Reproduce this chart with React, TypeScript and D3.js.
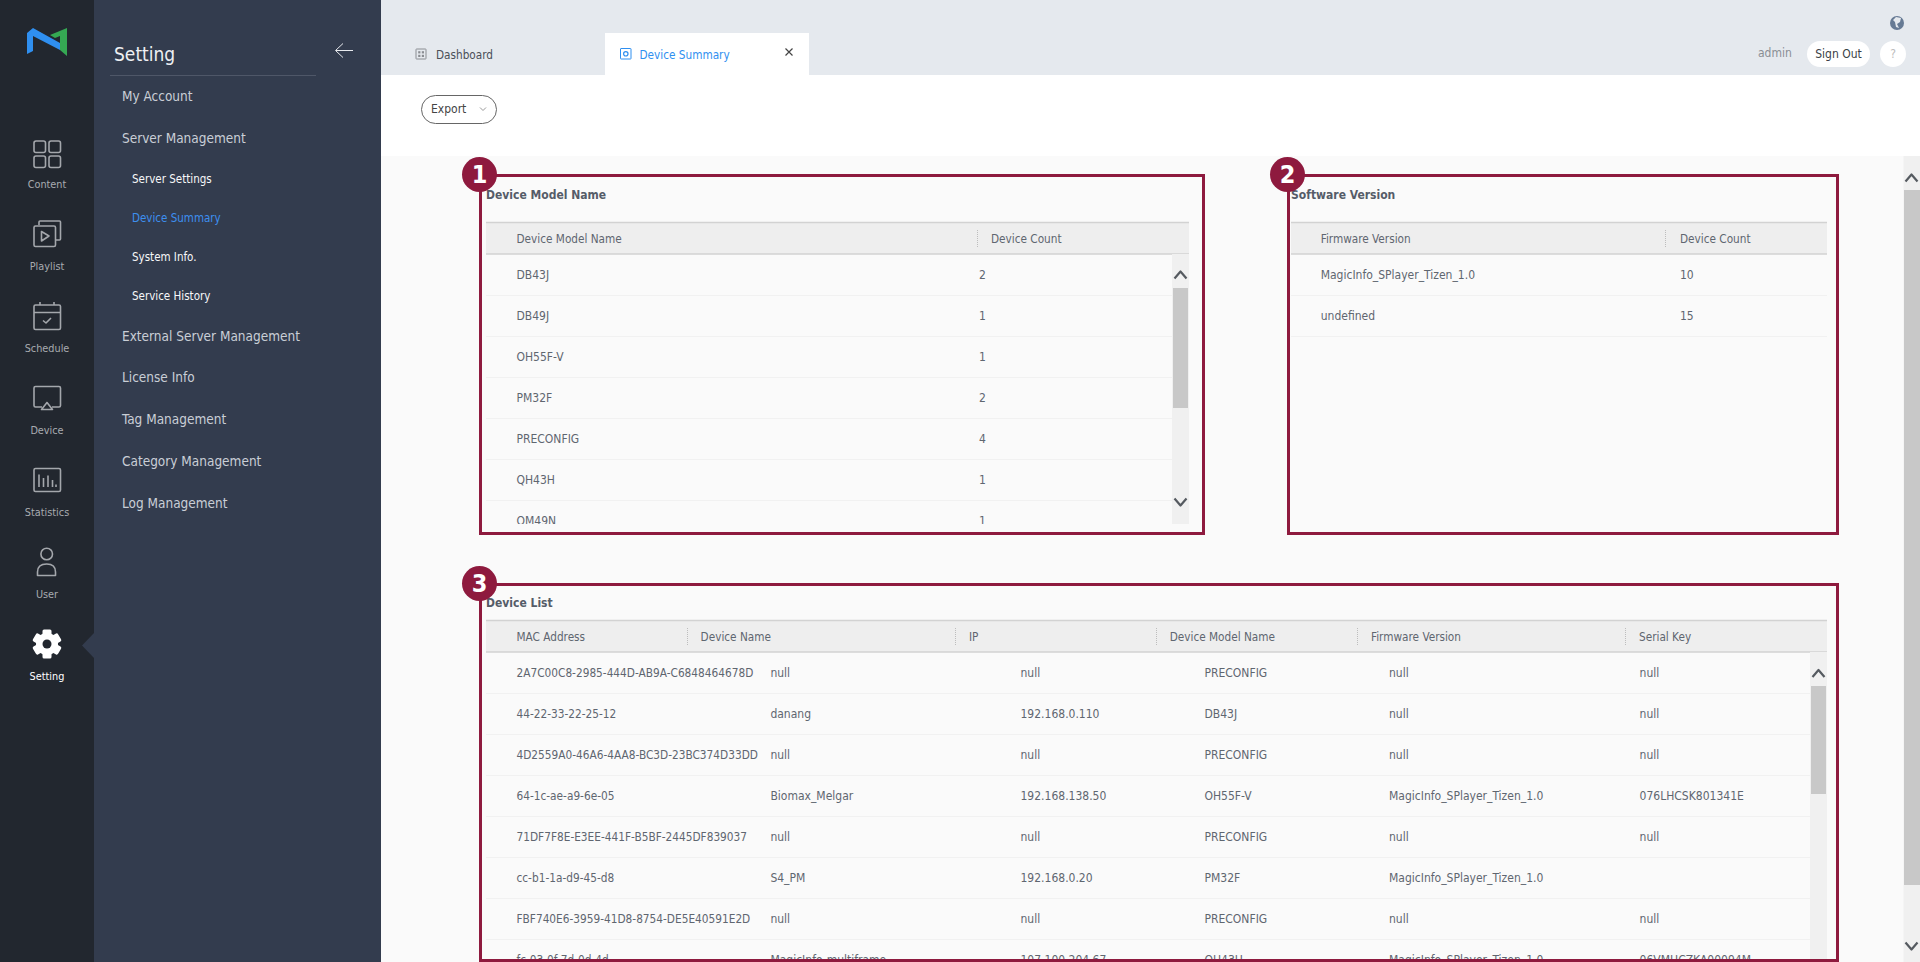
import { useEffect, useRef } from "react";
import * as d3 from "d3";

const railLabels = ["Content", "Playlist", "Schedule", "Device", "Statistics", "User", "Setting"];
const menuItems = [
  "My Account",
  "Server Management",
  "Server Settings",
  "Device Summary",
  "System Info.",
  "Service History",
  "External Server Management",
  "License Info",
  "Tag Management",
  "Category Management",
  "Log Management",
];
const subItems = ["Server Settings", "Device Summary", "System Info.", "Service History"];

const modelHeaders = ["Device Model Name", "Device Count"];
const modelNames = ["DB43J", "DB49J", "OH55F-V", "PM32F", "PRECONFIG", "QH43H", "OM49N"];
const modelCounts = [2, 1, 1, 2, 4, 1, 1];

const versionHeaders = ["Firmware Version", "Device Count"];
const versionNames = ["MagicInfo_SPlayer_Tizen_1.0", "undefined"];
const versionCounts = [10, 15];

const listHeaders = ["MAC Address", "Device Name", "IP", "Device Model Name", "Firmware Version", "Serial Key"];
const macs = [
  "2A7C00C8-2985-444D-AB9A-C6848464678D",
  "44-22-33-22-25-12",
  "4D2559A0-46A6-4AA8-BC3D-23BC374D33DD",
  "64-1c-ae-a9-6e-05",
  "71DF7F8E-E3EE-441F-B5BF-2445DF839037",
  "cc-b1-1a-d9-45-d8",
  "FBF740E6-3959-41D8-8754-DE5E40591E2D",
  "fc-03-0f-7d-0d-4d",
];
const deviceNames = ["null", "danang", "null", "Biomax_Melgar", "null", "S4_PM", "null", "MagicInfo-multiframe"];
const ips = ["null", "192.168.0.110", "null", "192.168.138.50", "null", "192.168.0.20", "null", "107.100.204.67"];
const listModels = ["PRECONFIG", "DB43J", "PRECONFIG", "OH55F-V", "PRECONFIG", "PM32F", "PRECONFIG", "QH43H"];
const firmware = [
  "null",
  "null",
  "null",
  "MagicInfo_SPlayer_Tizen_1.0",
  "null",
  "MagicInfo_SPlayer_Tizen_1.0",
  "null",
  "MagicInfo_SPlayer_Tizen_1.0",
];
const serials = ["null", "null", "null", "076LHCSK801341E", "null", "", "null", "06VMHCZKA00094M"];

const FONT = "'DejaVu Sans Condensed', 'DejaVu Sans', sans-serif";
const MAROON = "#8e1a3e";
const TEXT = "#5f6670";
const ICON = "#a4a7ac";

type G = d3.Selection<SVGGElement, unknown, null, undefined>;

function label(g: G, x: number, y: number, s: string, size: number, fill: string, weight = "normal", anchor = "start") {
  g.append("text")
    .attr("x", x)
    .attr("y", y)
    .attr("dy", "0.35em")
    .attr("font-family", FONT)
    .attr("font-stretch", "condensed")
    .attr("font-size", size)
    .attr("font-weight", weight)
    .attr("text-anchor", anchor)
    .attr("fill", fill)
    .text(s);
}

function icon(g: G, d: string, stroke = ICON, w = 1.6) {
  g.append("path")
    .attr("d", d)
    .attr("fill", "none")
    .attr("stroke", stroke)
    .attr("stroke-width", w)
    .attr("stroke-linejoin", "round");
}

function box(g: G, x: number, y: number, w: number, h: number, r: number, fill: string, stroke = "none", sw = 0) {
  return g
    .append("rect")
    .attr("x", x)
    .attr("y", y)
    .attr("width", w)
    .attr("height", h)
    .attr("rx", r)
    .attr("fill", fill)
    .attr("stroke", stroke)
    .attr("stroke-width", sw);
}

function chevron(g: G, cx: number, cy: number, up: boolean) {
  const s = up ? -1 : 1;
  icon(g, `M${cx - 6},${cy - s * 3.5}L${cx},${cy + s * 3.5}L${cx + 6},${cy - s * 3.5}`, "#555a60", 2.2);
}

function scrollbar(g: G, x: number, w: number, y0: number, y1: number, t0: number, t1: number, upY: number, downY: number | null) {
  box(g, x, y0, w, y1 - y0, 0, "#f0f0f0");
  box(g, x + 1, t0, w - 2, t1 - t0, 0, "#c8c8c8");
  chevron(g, x + w / 2, upY, true);
  if (downY !== null) chevron(g, x + w / 2, downY, false);
}

type Table = {
  id: string;
  x0: number;
  x1: number;
  headerTop: number;
  headers: string[];
  headerX: number[];
  sepX: number[];
  columns: (string | number)[][];
  cellX: number[];
  lineEnd: number;
  clipBottom: number;
  firstColSize?: number;
};

function drawTable(root: G, defs: d3.Selection<SVGDefsElement, unknown, null, undefined>, t: Table) {
  const top = t.headerTop;
  const g = root.append("g");
  box(g, t.x0, top, t.x1 - t.x0, 32, 0, "#eeeeee");
  g.append("line").attr("x1", t.x0).attr("x2", t.x1).attr("y1", top + 0.5).attr("y2", top + 0.5).attr("stroke", "#d2d2d2").attr("stroke-width", 1.5);
  g.append("line").attr("x1", t.x0).attr("x2", t.x1).attr("y1", top + 32).attr("y2", top + 32).attr("stroke", "#d2d2d2").attr("stroke-width", 1.5);
  t.sepX.forEach((x) => {
    g.append("line").attr("x1", x + 0.5).attr("x2", x + 0.5).attr("y1", top + 8).attr("y2", top + 25).attr("stroke", "#bdbdbd").attr("stroke-dasharray", "1 1");
  });
  t.headers.forEach((h, i) => label(g, t.headerX[i], top + 16.5, h, 11.7, TEXT));

  defs.append("clipPath").attr("id", t.id).append("rect").attr("x", t.x0).attr("y", top + 32).attr("width", t.x1 - t.x0).attr("height", t.clipBottom - top - 32);
  const body = g.append("g").attr("clip-path", `url(#${t.id})`);
  const n = t.columns[0].length;
  // 41px rows under the header
  const rowY = d3.scaleLinear().domain([0, 1]).range([top + 32, top + 73]);
  d3.range(n).forEach((r) => {
    body.append("line").attr("x1", t.x0).attr("x2", t.lineEnd).attr("y1", rowY(r + 1) + 0.5).attr("y2", rowY(r + 1) + 0.5).attr("stroke", "#f1f1f1");
    t.columns.forEach((col, c) => label(body, t.cellX[c], rowY(r + 0.5), String(col[r]), c === 0 && t.firstColSize ? t.firstColSize : 12, TEXT));
  });
}

export default function App() {
  const ref = useRef<SVGSVGElement | null>(null);

  useEffect(() => {
    if (!ref.current) return;
    const svg = d3.select(ref.current);
    svg.selectAll("*").remove();
    const defs = svg.append("defs");
    const root = svg.append("g") as unknown as G;

    // backgrounds
    box(root, 0, 0, 1920, 962, 0, "#fafafa");
    box(root, 381, 0, 1539, 75, 0, "#e5e9ee");
    box(root, 381, 75, 1539, 81, 0, "#ffffff");
    box(root, 0, 0, 94, 962, 0, "#22272f");
    box(root, 94, 0, 287, 962, 0, "#333c4e");
    root.append("path").attr("d", d3.line()([[94, 633], [82, 645.5], [94, 658]]) as string).attr("fill", "#333c4e");

    // logo
    root.append("path").attr("d", "M27,33L33,28L60,43V50L33,36V51L27,54Z").attr("fill", "#2f8ff0");
    root.append("path").attr("d", "M50,35L67,28V56L60,50V36L55,38Z").attr("fill", "#35a853");

    // rail icons
    const railY = [184, 266, 348, 430, 512, 594, 676];
    railLabels.forEach((s, i) => label(root, 47, railY[i], s, 10.8, i === 6 ? "#ffffff" : "#a8abb0", "normal", "middle"));

    const content = root.append("g").attr("transform", "translate(0,141)") as unknown as G;
    [[34, 0], [49, 0], [34, 15], [49, 15]].forEach(([x, y]) => box(content, x, y, 11.5, 11.5, 2, "none", ICON, 1.6));

    const playlist = root.append("g").attr("transform", "translate(0,220)") as unknown as G;
    icon(playlist, "M39,5V2Q39,1 40,1H59.5Q60.5,1 60.5,2V19Q60.5,20 59.5,20H56");
    box(playlist, 34, 6, 21.5, 20.5, 1.5, "none", ICON, 1.6);
    icon(playlist, "M41.5,11.5V21L49,16Z");

    const schedule = root.append("g").attr("transform", "translate(0,302)") as unknown as G;
    box(schedule, 34, 3, 26.5, 24.5, 1.5, "none", ICON, 1.6);
    icon(schedule, "M34,10.5H60.5M40,0V3M54,0V3");
    icon(schedule, "M43,18.5L46,21L51,16");

    const device = root.append("g").attr("transform", "translate(0,386)") as unknown as G;
    icon(device, "M42,21H35.5Q34,21 34,19.5V2Q34,0.5 35.5,0.5H59Q60.5,0.5 60.5,2V19.5Q60.5,21 59,21H52");
    icon(device, "M47,16.5L41.5,23.5H52.5Z");

    const stats = root.append("g").attr("transform", "translate(0,468)") as unknown as G;
    box(stats, 34, 0.5, 26.5, 23, 1.5, "none", ICON, 1.6);
    icon(stats, "M39,6.5V19M43.5,10V19M48,7.5V19M52.5,12V19M56,16.5V19");

    root.append("circle").attr("cx", 46.7).attr("cy", 554).attr("r", 5.8).attr("fill", "none").attr("stroke", ICON).attr("stroke-width", 1.6);
    icon(root, "M37.5,575.5V572Q37.5,564 46.7,564Q55.5,564 55.5,572V575.5Z");

    // gear: three crossed bars and a ring
    d3.range(3).forEach((i) => {
      root.append("rect")
        .attr("x", 47 - 14.5)
        .attr("y", 644 - 4.5)
        .attr("width", 29)
        .attr("height", 9)
        .attr("rx", 1.5)
        .attr("fill", "#ffffff")
        .attr("transform", `rotate(${30 + i * 60} 47 644)`);
    });
    root.append("circle").attr("cx", 47).attr("cy", 644).attr("r", 11).attr("fill", "#ffffff");
    root.append("circle").attr("cx", 47).attr("cy", 644).attr("r", 4.5).attr("fill", "#22272f");

    // settings panel
    label(root, 114, 54, "Setting", 19, "#eef0f3");
    root.append("line").attr("x1", 110).attr("x2", 316).attr("y1", 75.5).attr("y2", 75.5).attr("stroke", "#4f5768");
    icon(root, "M353,50.5H336M343,43.5L335.5,50.5L343,57.5", "#e8eaee", 1);
    const menuY = [96, 138, 178.5, 217.5, 256.5, 296, 336, 377, 419, 461, 503];
    menuItems.forEach((s, i) => {
      const sub = subItems.includes(s);
      const fill = s === "Device Summary" ? "#3d8ff0" : sub ? "#f7f8f9" : "#c9ced6";
      label(root, sub ? 132 : 122, menuY[i], s, sub ? 11.5 : 13.5, fill);
    });

    // tabs
    box(root, 605, 33, 204, 42, 0, "#ffffff");
    box(root, 416, 49, 10, 10, 0.5, "none", "#8a8d92", 1);
    [[418.2, 51.2], [421.8, 51.2], [418.2, 54.8], [421.8, 54.8]].forEach(([x, y]) => box(root, x, y, 2.2, 2.2, 0, "#8a8d92"));
    label(root, 436, 54.5, "Dashboard", 11.7, "#4a4f57");
    box(root, 620.5, 48.5, 10.5, 10.5, 0.5, "none", "#2f8ff0", 1);
    root.append("circle").attr("cx", 625.8).attr("cy", 53.8).attr("r", 2.2).attr("fill", "none").attr("stroke", "#2f8ff0").attr("stroke-width", 1.2);
    label(root, 639.5, 54.5, "Device Summary", 11.7, "#2f8ff0");
    icon(root, "M785.5,48.5L792.5,55.5M792.5,48.5L785.5,55.5", "#444", 1.2);

    // export button
    box(root, 421.5, 95.5, 75, 28, 14, "#ffffff", "#666", 1);
    label(root, 431, 109, "Export", 12, "#444");
    icon(root, "M480,107.5L483,110.5L486,107.5", "#999", 1);

    // top right
    root.append("circle").attr("cx", 1897).attr("cy", 23).attr("r", 7).attr("fill", "#667a94");
    root.append("path").attr("d", "M1896,17L1901,18L1900,22L1897,24L1899,28L1896,27L1895,22L1893,20Z").attr("fill", "#e5e9ee");
    label(root, 1758, 53, "admin", 12, "#8a8e94");
    box(root, 1807, 41, 63, 26, 13, "#ffffff");
    label(root, 1838.5, 54, "Sign Out", 12, "#3a3f46", "normal", "middle");
    box(root, 1880, 41, 26, 26, 13, "#ffffff");
    label(root, 1893, 54, "?", 12, "#bbbbbb", "normal", "middle");

    // page scrollbar
    box(root, 1903.5, 156, 16.5, 806, 0, "#f0f0f0");
    box(root, 1904, 190, 16, 695, 0, "#c8c8c8");
    chevron(root, 1911.5, 178, true);
    chevron(root, 1911.5, 946, false);

    // tables
    label(root, 486, 194.5, "Device Model Name", 12, "#555c68", "bold");
    drawTable(root, defs, {
      id: "clip-model",
      x0: 486,
      x1: 1189,
      headerTop: 222,
      headers: modelHeaders,
      headerX: [516.5, 991],
      sepX: [977],
      columns: [modelNames, modelCounts],
      cellX: [516.5, 979],
      lineEnd: 1172,
      clipBottom: 524,
    });
    scrollbar(root, 1172, 17, 254, 524, 288, 408, 275, 502);

    label(root, 1291, 194.5, "Software Version", 12, "#555c68", "bold");
    drawTable(root, defs, {
      id: "clip-version",
      x0: 1291,
      x1: 1827,
      headerTop: 222,
      headers: versionHeaders,
      headerX: [1320.7, 1680],
      sepX: [1665],
      columns: [versionNames, versionCounts],
      cellX: [1320.7, 1680],
      lineEnd: 1827,
      clipBottom: 524,
    });

    label(root, 486, 603, "Device List", 12, "#555c68", "bold");
    drawTable(root, defs, {
      id: "clip-list",
      x0: 486,
      x1: 1827,
      headerTop: 620,
      headers: listHeaders,
      headerX: [516.5, 700.6, 969, 1169.7, 1371, 1639],
      sepX: [687, 955, 1156, 1357, 1625],
      columns: [macs, deviceNames, ips, listModels, firmware, serials],
      cellX: [516.5, 770.4, 1020.5, 1204.5, 1389, 1639.6],
      lineEnd: 1810,
      clipBottom: 959,
      firstColSize: 11.75,
    });
    scrollbar(root, 1810, 17, 652, 959, 686, 794, 673.5, null);

    // callouts
    const callouts: [number, number, number, number, string][] = [
      [480.5, 175.5, 723, 358, "1"],
      [1288.5, 175.5, 549, 358, "2"],
      [480.5, 584.5, 1357, 376, "3"],
    ];
    callouts.forEach(([x, y, w, h, n]) => {
      box(root, x, y, w, h, 0, "none", MAROON, 3);
      root.append("circle").attr("cx", x - 1).attr("cy", y - 1).attr("r", 17.5).attr("fill", MAROON);
      label(root, x - 1, y - 1, n, 25, "#ffffff", "bold", "middle");
    });
  }, []);

  return <svg ref={ref} width={1920} height={962} viewBox="0 0 1920 962" style={{ position: "fixed", left: 0, top: 0, display: "block" }} />;
}
